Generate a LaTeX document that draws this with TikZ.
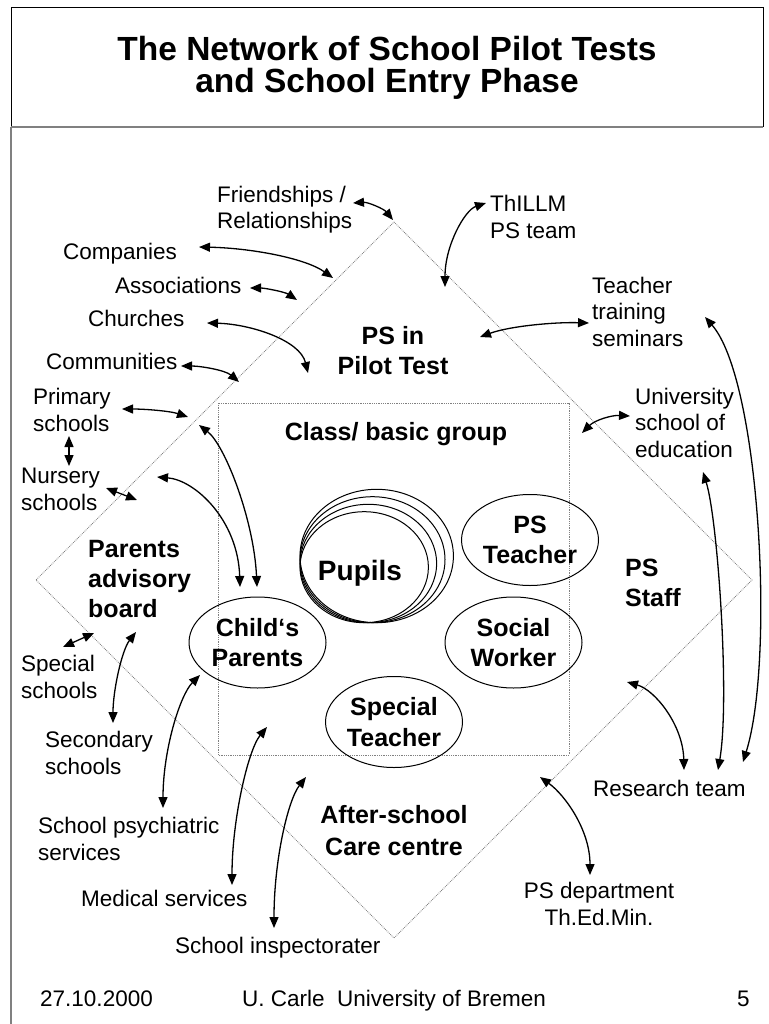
\documentclass[tikz,border=0pt]{standalone}
\usepackage{fontspec}
\setmainfont{Liberation Sans}
\usetikzlibrary{arrows.meta,shapes.geometric}
\begin{document}
\begin{tikzpicture}[x=1pt,y=-1pt,
 lab/.style={font=\fontsize{22.5}{26.5}\selectfont, inner sep=0pt, align=left, anchor=base west},
 blab/.style={font=\fontsize{25}{30}\selectfont\bfseries, inner sep=0pt, align=left, anchor=base west},
 ell/.style={draw, ellipse, line width=1pt, minimum width=137pt, minimum height=91pt, inner sep=0pt, align=center, font=\fontsize{25}{30.5}\selectfont\bfseries},
 arr/.style={line width=1.3pt, {Triangle[length=11pt,width=9pt]}-{Triangle[length=11pt,width=9pt]}},
 region/.style={draw=gray, line width=0.8pt, densely dotted},
 frameline/.style={draw=black, line width=1pt},
 grayline/.style={draw=gray, line width=2pt}]
\useasboundingbox (0,0) rectangle (768,1024);
% frame
\coordinate (f1) at (11,127); \coordinate (f2) at (11,8);
\coordinate (f3) at (763,8); \coordinate (f4) at (763,127);
\coordinate (f5) at (11,1024);
\draw[frameline] (f1) -- (f2) -- (f3) -- (f4);
\draw[grayline] (f1) -- (f4);
\draw[grayline, line width=1.5pt] (f1) -- (f5);
\node[font=\fontsize{33.5}{32}\selectfont\bfseries, align=center, inner sep=0pt, anchor=base] (title) at (387,93)
 {The Network of School Pilot Tests\\and School Entry Phase};
% diamond and rectangle
\coordinate (dT) at (394,222); \coordinate (dR) at (752,580);
\coordinate (dB) at (394,938); \coordinate (dL) at (36,580);
\draw[region] (dT) -- (dR) -- (dB) -- (dL) -- cycle;
\coordinate (rA) at (218,403); \coordinate (rB) at (569,755);
\draw[region] (rA) rectangle (rB);
% pupils
\draw[line width=1pt] (376.7,556.0) ellipse [x radius=76.7, y radius=66.7];
\draw[line width=1pt] (372.5,559.7) ellipse [x radius=72.5, y radius=63.0];
\draw[line width=1pt] (368.3,563.5) ellipse [x radius=68.3, y radius=59.2];
\draw[line width=1pt] (364.2,567.2) ellipse [x radius=64.2, y radius=55.5];
\node[font=\fontsize{28}{34}\selectfont\bfseries, inner sep=0pt, anchor=base] (pupils) at (360,580) {Pupils};
% ellipses
\node[ell] (psteacher) at (530,540) {PS\\Teacher};
\node[ell] (social) at (513.5,642.5) {Social\\Worker};
\node[ell] (special) at (394,722) {Special\\Teacher};
\node[ell] (child) at (257.5,642.5) {Child‘s\\Parents};
% bold region labels
\node[blab, align=center, anchor=base] (pspilot) at (393,374) {PS in\\Pilot Test};
\node[blab, anchor=base] (class) at (396,440) {Class/ basic group};
\node[blab] (parents) at (88,617) {Parents\\advisory\\board};
\node[blab] (psstaff) at (625,606) {PS\\Staff};
\node[blab, align=center, anchor=base, font=\fontsize{25}{32}\selectfont\bfseries] (after) at (394,855) {After-school\\Care centre};
% labels
\node[lab] (friend) at (217,229) {Friendships /\\Relationships};
\node[lab] (comp) at (63,259) {Companies};
\node[lab] (assoc) at (115,293) {Associations};
\node[lab] (church) at (88,326) {Churches};
\node[lab] (commun) at (46,369) {Communities};
\node[lab] (primary) at (33,431) {Primary\\schools};
\node[lab] (nursery) at (21,510) {Nursery\\schools};
\node[lab] (specs) at (21,698) {Special\\schools};
\node[lab] (second) at (45,774) {Secondary\\schools};
\node[lab] (psych) at (38,860) {School psychiatric\\services};
\node[lab] (medical) at (81,906) {Medical services};
\node[lab] (inspect) at (175,953) {School inspectorater};
\node[lab] (thillm) at (490,238) {ThILLM\\PS team};
\node[lab] (training) at (592,346) {Teacher\\training\\seminars};
\node[lab] (univ) at (635,457) {University\\school of\\education};
\node[lab] (research) at (593,796) {Research team};
\node[lab, align=center, anchor=base] (dept) at (599,925) {PS department\\Th.Ed.Min.};
% footer
\node[lab] (date) at (40,1006) {27.10.2000};
\node[lab] (author) at (242,1006) {U. Carle~~University of Bremen};
\node[lab] (page) at (737,1006) {5};
% arrow end points
\coordinate (fr1) at (353,203); \coordinate (fr2) at (393,220);
\coordinate (co1) at (199,247); \coordinate (co2) at (333,278);
\coordinate (as1) at (250,288); \coordinate (as2) at (297,300);
\coordinate (ch1) at (207,323); \coordinate (ch2) at (308,373);
\coordinate (cm1) at (181,366); \coordinate (cm2) at (239,382);
\coordinate (pr1) at (122,409); \coordinate (pr2) at (188,417);
\coordinate (pn1) at (69,436); \coordinate (pn2) at (69,466);
\coordinate (nu1) at (106,488); \coordinate (nu2) at (137,500);
\coordinate (ca1) at (199,425); \coordinate (ca2) at (257,587);
\coordinate (cb1) at (157,477); \coordinate (cb2) at (240,587);
\coordinate (sp1) at (63,647); \coordinate (sp2) at (94,633);
\coordinate (se1) at (136,632); \coordinate (se2) at (113,723);
\coordinate (ps1) at (200,675); \coordinate (ps2) at (163,808);
\coordinate (me1) at (267,727); \coordinate (me2) at (232,885);
\coordinate (in1) at (306,777); \coordinate (in2) at (274,928);
\coordinate (th1) at (486,203); \coordinate (th2) at (445,287);
\coordinate (tt1) at (480,337); \coordinate (tt2) at (589,323);
\coordinate (un1) at (582,433); \coordinate (un2) at (630,416);
\coordinate (tr1) at (705,317); \coordinate (tr2) at (743,762);
\coordinate (ur1) at (703,472); \coordinate (ur2) at (718,770);
\coordinate (sr1) at (627,682); \coordinate (sr2) at (684,770);
\coordinate (de1) at (540,777); \coordinate (de2) at (590,875);
% arrows
\draw[arr] (fr1) .. controls (368,202) and (384,209) .. (fr2);
\draw[arr] (co1) .. controls (250,248) and (305,258) .. (co2);
\draw[arr] (as1) .. controls (265,288) and (285,292) .. (as2);
\draw[arr] (ch1) .. controls (250,324) and (300,340) .. (ch2);
\draw[arr] (cm1) .. controls (200,366) and (225,370) .. (cm2);
\draw[arr] (pr1) .. controls (145,409) and (170,411) .. (pr2);
\draw[arr] (pn1) -- (pn2);
\draw[arr] (nu1) -- (nu2);
\draw[arr] (ca1) .. controls (225,445) and (254,520) .. (ca2);
\draw[arr] (cb1) .. controls (195,480) and (238,520) .. (cb2);
\draw[arr] (sp1) -- (sp2);
\draw[arr] (se1) .. controls (122,650) and (113,690) .. (se2);
\draw[arr] (ps1) .. controls (180,695) and (163,750) .. (ps2);
\draw[arr] (me1) .. controls (248,750) and (232,820) .. (me2);
\draw[arr] (in1) .. controls (288,800) and (274,860) .. (in2);
\draw[arr] (th1) .. controls (465,210) and (445,245) .. (th2);
\draw[arr] (tt1) .. controls (510,326) and (555,322) .. (tt2);
\draw[arr] (un1) .. controls (595,420) and (612,415) .. (un2);
\draw[arr] (tr1) .. controls (760,380) and (775,660) .. (tr2);
\draw[arr] (ur1) .. controls (718,520) and (730,700) .. (ur2);
\draw[arr] (sr1) .. controls (655,690) and (683,725) .. (sr2);
\draw[arr] (de1) .. controls (565,795) and (590,830) .. (de2);
\end{tikzpicture}
\end{document}
